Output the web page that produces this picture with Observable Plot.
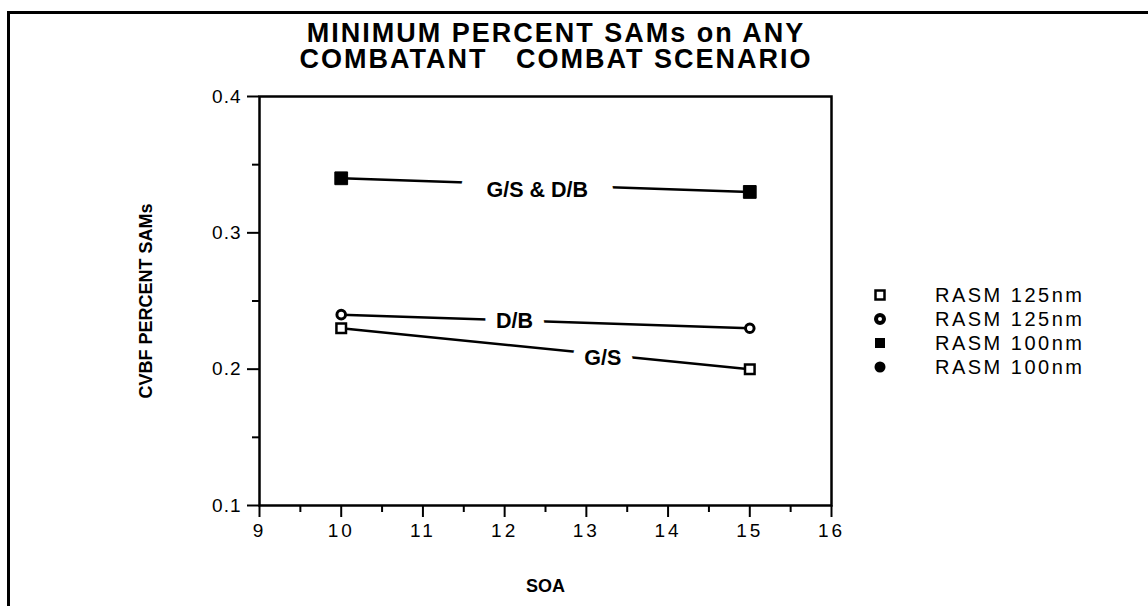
<!DOCTYPE html>
<html>
<head>
<meta charset="utf-8">
<script src="https://cdn.jsdelivr.net/npm/d3@7"></script>
<script src="https://cdn.jsdelivr.net/npm/@observablehq/plot@0.6"></script>
<style>
  body { margin: 0; background: #fff; font-family: "Liberation Sans", Arial, sans-serif; }
  #wrap { position: relative; width: 1148px; height: 606px; overflow: hidden; background: #fff; }
  #border { position: absolute; left: 7px; top: 11px; width: 1200px; height: 700px;
            border-top: 3px solid #000; border-left: 3px solid #000; pointer-events: none; }
  #title { position: absolute; left: 0; top: 20px; width: 1112px; text-align: center;
           font-weight: bold; font-size: 27px; line-height: 26px; letter-spacing: 2px;
           white-space: pre; color: #000; }
  #chart { position: absolute; left: 0; top: 0; }
  #legend { position: absolute; left: 868px; top: 283px; font-size: 20px; letter-spacing: 2.5px; color: #000; }
  #legend .row { display: flex; align-items: center; height: 24px; }
  #legend svg { width: 24px; height: 24px; margin-right: 43px; flex: none; }
  g[aria-label="x-axis label"] text, g[aria-label="y-axis label"] text { font-weight: bold; font-size: 18px; }
  g[aria-label="x-axis tick label"] text { letter-spacing: 3px; }
  g[aria-label="y-axis tick label"] text { letter-spacing: 1px; }
</style>
</head>
<body>
<div id="wrap">
  <div id="chart"></div>
  <div id="border"></div>
  <div id="title"></div>
  <div id="legend"></div>
</div>
<script>
// ---- data ----
const titleLines = ["MINIMUM PERCENT SAMs on ANY", "COMBATANT   COMBAT SCENARIO"];
const soa = [10, 15];
const gsdb100 = [0.34, 0.33];   // RASM 100nm, filled square (G/S & D/B)
const db125 = [0.24, 0.23];     // RASM 125nm, circle (D/B)
const gs125 = [0.23, 0.20];     // RASM 125nm, open square (G/S)
const xTicks = [9, 10, 11, 12, 13, 14, 15, 16];
const xMinor = [9.5, 10.5, 11.5, 12.5, 13.5, 14.5, 15.5];
const yTicks = [0.1, 0.2, 0.3, 0.4];
const yMinor = [0.15, 0.25, 0.35];
const lineLabels = ["G/S & D/B", "D/B", "G/S"];
const lineLabelX = [12.4, 12.12, 13.2];
const lineLabelY = [0.331, 0.235, 0.208];
const legendLabels = ["RASM 125nm", "RASM 125nm", "RASM 100nm", "RASM 100nm"];
const legendSymbols = ["openSquare", "openCircle", "filledSquare", "filledCircle"];
const xLabel = "SOA";
const yLabel = "CVBF PERCENT SAMs";

// ---- build tables ----
const rows = (vals) => soa.map((s, i) => ({soa: s, v: vals[i]}));
const sGSDB = rows(gsdb100), sDB = rows(db125), sGS = rows(gs125);
const labels = lineLabels.map((t, i) => ({t, x: lineLabelX[i], y: lineLabelY[i], wide: i === 0}));

document.getElementById("title").textContent = titleLines.join("\n");

const labelStyle = { x: "x", y: "y", text: "t", fill: "#000", stroke: "#fff",
                     fontWeight: "bold", fontSize: 21.5 };

const plot = Plot.plot({
  width: 1148,
  height: 606,
  marginLeft: 259,
  marginRight: 317,
  marginTop: 96,
  marginBottom: 101,
  style: { fontFamily: "'Liberation Sans', Arial, sans-serif", fontSize: "19px", color: "#000", background: "transparent" },
  x: { domain: [9, 16] },
  y: { domain: [0.1, 0.4] },
  marks: [
    Plot.frame({ stroke: "#000", strokeWidth: 2.5 }),
    Plot.axisY({ ticks: yMinor, tickSize: 7, tickFormat: null, text: null, strokeWidth: 2, label: null }),
    Plot.axisY({ ticks: yTicks, tickSize: 12, tickPadding: 6, tickFormat: d3.format(".1f"), strokeWidth: 2,
                 label: yLabel, labelAnchor: "center", labelArrow: "none", labelOffset: 120 }),
    Plot.axisX({ ticks: xMinor, tickSize: 7, text: null, strokeWidth: 2, label: null }),
    Plot.axisX({ ticks: xTicks, tickSize: 12, tickPadding: 6, tickFormat: d3.format("d"), strokeWidth: 2,
                 label: xLabel, labelAnchor: "center", labelArrow: "none", labelOffset: 86 }),
    Plot.line(sGSDB, { x: "soa", y: "v", stroke: "#000", strokeWidth: 2.5 }),
    Plot.line(sDB, { x: "soa", y: "v", stroke: "#000", strokeWidth: 2.5 }),
    Plot.line(sGS, { x: "soa", y: "v", stroke: "#000", strokeWidth: 2.5 }),
    Plot.text(labels.filter(d => d.wide), { ...labelStyle, strokeWidth: 52 }),
    Plot.text(labels.filter(d => !d.wide), { ...labelStyle, strokeWidth: 24 }),
    Plot.dot(sGSDB, { x: "soa", y: "v", symbol: "square", r: 7.2, fill: "#000", stroke: "#000", strokeWidth: 1 }),
    Plot.dot(sDB, { x: "soa", y: "v", symbol: "circle", r: 4.3, fill: "#fff", stroke: "#000", strokeWidth: 3 }),
    Plot.dot(sGS, { x: "soa", y: "v", symbol: "square", r: 5.4, fill: "#fff", stroke: "#000", strokeWidth: 2.5 })
  ]
});
document.getElementById("chart").appendChild(plot);

// ---- legend ----
const legend = document.getElementById("legend");
const symSvg = {
  openSquare: '<rect x="7.5" y="7.5" width="9" height="9" fill="#fff" stroke="#000" stroke-width="2.5"/>',
  openCircle: '<circle cx="12" cy="12" r="4" fill="#fff" stroke="#000" stroke-width="4"/>',
  filledSquare: '<rect x="7" y="7" width="10" height="10" fill="#000"/>',
  filledCircle: '<circle cx="12" cy="12" r="5.5" fill="#000"/>'
};
legendLabels.forEach((lab, i) => {
  const row = document.createElement("div");
  row.className = "row";
  row.innerHTML = '<svg viewBox="0 0 24 24">' + symSvg[legendSymbols[i]] + '</svg>';
  const span = document.createElement("span");
  span.textContent = lab;
  row.appendChild(span);
  legend.appendChild(row);
});
</script>
</body>
</html>
